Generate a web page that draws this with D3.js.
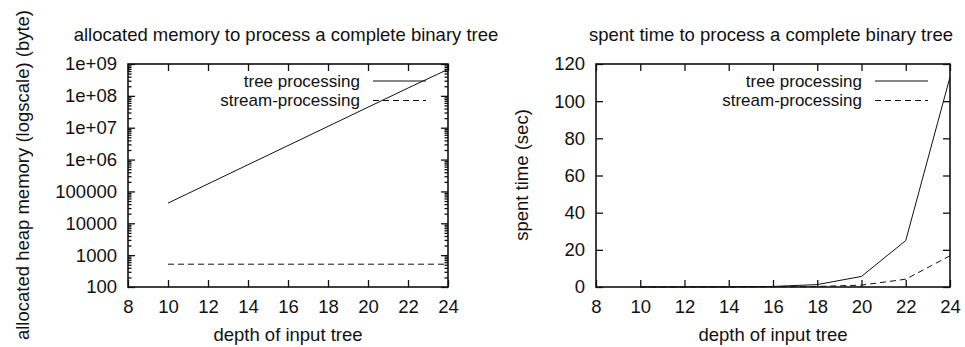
<!DOCTYPE html>
<html>
<head>
<meta charset="utf-8">
<script src="https://cdn.jsdelivr.net/npm/d3@7"></script>
<style>
  body { margin: 0; background: #fff; }
  svg text { font-family: "Liberation Sans", Arial, sans-serif; fill: #111; }
</style>
</head>
<body>
<div id="chart"></div>
<script>
// data
const depths = [10, 12, 14, 16, 18, 20, 22, 24]
const memTree = [43000, 172000, 690000, 2750000, 11000000, 44000000, 176000000, 680000000]
const memStream = [520, 520, 520, 520, 520, 520, 520, 520]
const timeTree = [0.02, 0.05, 0.1, 0.3, 1.3, 5.7, 25, 113]
const timeStream = [0.01, 0.02, 0.05, 0.1, 0.3, 1.0, 4.2, 16.8]

const xTicks = [8, 10, 12, 14, 16, 18, 20, 22, 24]
const memTicks = [1e2, 1e3, 1e4, 1e5, 1e6, 1e7, 1e8, 1e9]
const memTickLabels = ['100', '1000', '10000', '100000', '1e+06', '1e+07', '1e+08', '1e+09']
const timeTicks = [0, 20, 40, 60, 80, 100, 120]
const seriesNames = ['tree processing', 'stream-processing']

const width = 965
const height = 347
const plotTop = 64
const plotBottom = 287
const fontSize = '18.5px'

const svg = d3
  .select('#chart')
  .append('svg')
  .attr('width', width)
  .attr('height', height)

function drawPanel(opts) {
  const g = svg.append('g')
  const x = d3.scaleLinear().domain([8, 24]).range([opts.x0, opts.x1])
  const y = opts.y

  // major ticks, inward, mirrored
  g.append('g')
    .attr('transform', `translate(0,${plotBottom})`)
    .call(d3.axisBottom(x).tickValues(xTicks).tickSize(-7).tickPadding(13))
  g.append('g')
    .attr('transform', `translate(0,${plotTop})`)
    .call(d3.axisTop(x).tickValues(xTicks).tickSize(-7).tickFormat(''))
  g.append('g')
    .attr('transform', `translate(${opts.x0},0)`)
    .call(d3.axisLeft(y).tickValues(opts.yTicks).tickSize(-7).tickPadding(11)
      .tickFormat((d, i) => opts.yLabels[i]))
  g.append('g')
    .attr('transform', `translate(${opts.x1},0)`)
    .call(d3.axisRight(y).tickValues(opts.yTicks).tickSize(-7).tickFormat(''))

  if (opts.minor) {
    g.append('g')
      .attr('transform', `translate(${opts.x0},0)`)
      .call(d3.axisLeft(y).tickValues(opts.minor).tickSize(-3.5).tickFormat(''))
    g.append('g')
      .attr('transform', `translate(${opts.x1},0)`)
      .call(d3.axisRight(y).tickValues(opts.minor).tickSize(-3.5).tickFormat(''))
  }

  g.selectAll('.domain').remove()
  g.selectAll('.tick line').attr('stroke', '#111').attr('stroke-width', 1.3)
  g.selectAll('.tick text').style('font-size', fontSize).attr('fill', '#111')

  g.append('rect')
    .attr('x', opts.x0)
    .attr('y', plotTop)
    .attr('width', opts.x1 - opts.x0)
    .attr('height', plotBottom - plotTop)
    .attr('fill', 'none')
    .attr('stroke', '#111')
    .attr('stroke-width', 1.6)

  const line = d3.line()
    .x((d, i) => x(depths[i]))
    .y(d => y(d))

  g.append('path')
    .datum(opts.series[0])
    .attr('d', line)
    .attr('fill', 'none')
    .attr('stroke', '#111')
    .attr('stroke-width', 1)
  g.append('path')
    .datum(opts.series[1])
    .attr('d', line)
    .attr('fill', 'none')
    .attr('stroke', '#111')
    .attr('stroke-width', 1)
    .attr('stroke-dasharray', '6,4')

  // legend (a bit smaller so the two rows don't collide)
  seriesNames.forEach((name, i) => {
    const ly = 81 + i * 19.5
    g.append('text')
      .attr('x', opts.legendX)
      .attr('y', ly)
      .attr('dy', '0.35em')
      .attr('text-anchor', 'end')
      .style('font-size', '17px')
      .text(name)
    g.append('line')
      .attr('x1', opts.legendX + 13)
      .attr('x2', opts.legendX + 66)
      .attr('y1', ly)
      .attr('y2', ly)
      .attr('stroke', '#111')
      .attr('stroke-width', 1)
      .attr('stroke-dasharray', i === 1 ? '6,4' : null)
  })

  const cx = (opts.x0 + opts.x1) / 2
  g.append('text')
    .attr('x', cx - 2)
    .attr('y', 41)
    .attr('text-anchor', 'middle')
    .style('font-size', fontSize)
    .text(opts.title)

  g.append('text')
    .attr('x', cx)
    .attr('y', 341)
    .attr('text-anchor', 'middle')
    .style('font-size', fontSize)
    .text('depth of input tree')

  g.append('text')
    .attr('transform', `translate(${opts.yLabelX},${175}) rotate(-90)`)
    .attr('dy', '0.35em')
    .attr('text-anchor', 'middle')
    .style('font-size', fontSize)
    .text(opts.yTitle)
}

const minorLog = []
memTicks.slice(0, -1).forEach(d => {
  for (let k = 2; k <= 9; k++) minorLog.push(d * k)
})

drawPanel({
  x0: 128,
  x1: 448,
  y: d3.scaleLog().domain([1e2, 1e9]).range([plotBottom, plotTop]),
  yTicks: memTicks,
  yLabels: memTickLabels,
  minor: minorLog,
  series: [memTree, memStream],
  legendX: 360,
  title: 'allocated memory to process a complete binary tree',
  yTitle: 'allocated heap memory (logscale) (byte)',
  yLabelX: 23
})

drawPanel({
  x0: 596,
  x1: 950,
  y: d3.scaleLinear().domain([0, 120]).range([plotBottom, plotTop]),
  yTicks: timeTicks,
  yLabels: timeTicks.map(String),
  minor: null,
  series: [timeTree, timeStream],
  legendX: 862,
  title: 'spent time to process a complete binary tree',
  yTitle: 'spent time (sec)',
  yLabelX: 522
})
</script>
</body>
</html>
